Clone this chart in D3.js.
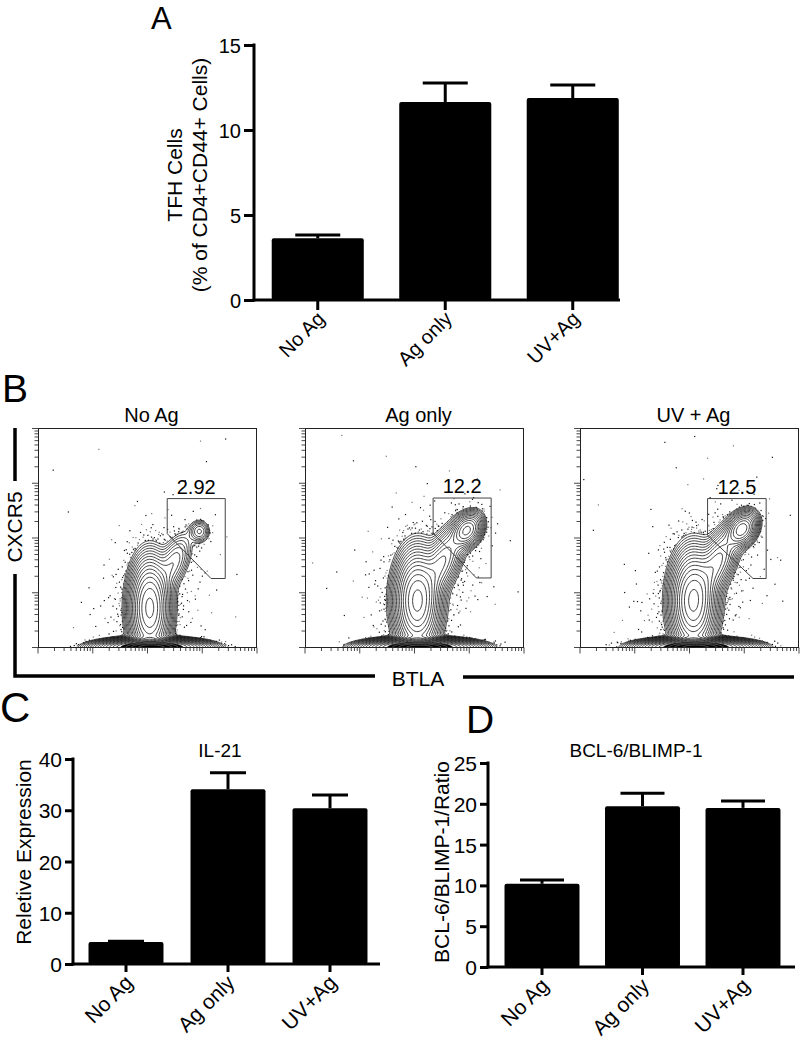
<!DOCTYPE html>
<html><head><meta charset="utf-8">
<script src="https://cdn.jsdelivr.net/npm/d3@7"></script>
<style>
body{margin:0;background:#fff}
svg{display:block}
text{font-family:"Liberation Sans",Arial,Helvetica,sans-serif;fill:#000}
</style>
</head><body>
<svg id="c" width="800" height="1041"></svg>
<script>
// ---------------- DATA ----------------
const categories = ["No Ag", "Ag only", "UV+Ag"];

// Panel A: TFH cells (% of CD4+CD44+ cells)
const tfhValues = [3.63, 11.65, 11.88];
const tfhErrors = [0.19, 1.11, 0.77];
const tfhTicks = [0, 5, 10, 15];

// Panel C: IL-21 relative expression
const il21Values = [4.3, 34.1, 30.4];
const il21Errors = [0.15, 3.2, 2.6];
const il21Ticks = [0, 10, 20, 30, 40];

// Panel D: BCL-6/BLIMP-1 ratio
const bclValues = [10.2, 19.7, 19.5];
const bclErrors = [0.45, 1.6, 0.85];
const bclTicks = [0, 5, 10, 15, 20, 25];

// Panel B: flow plots (BTLA vs CXCR5, log10 units)
const flowTitles = ["No Ag", "Ag only", "UV + Ag"];
const gatePercents = ["2.92", "12.2", "12.5"];
const flowDecades = [1, 2, 3, 4, 5];
// gate polygons: [log10 BTLA, log10 CXCR5]
const gateNoAg   = [[3.36,3.72],[4.42,3.72],[4.42,2.26],[4.16,2.26],[3.36,3.08]];
const gateAgOnly = [[3.34,3.73],[4.40,3.73],[4.40,2.27],[4.13,2.27],[3.34,3.09]];
const gateUvAg   = [[3.33,3.72],[4.40,3.72],[4.40,2.26],[4.16,2.26],[3.33,3.05]];
// cell populations: [BTLA centre, CXCR5 centre, sdX, sdY, rho, weight]
const popNoAg = [
  [3.04, 1.72, 0.17, 0.42, 0.00, 1.00],
  [3.08, 1.00, 0.42, 0.07, 0.00, 3.00],
  [3.48, 2.55, 0.17, 0.28, 0.55, 0.10],
  [3.95, 3.12, 0.10, 0.11, 0.00, 0.09],
  [3.10, 2.00, 0.55, 0.80, 0.30, 0.010]
];
const popAgOnly = [
  [3.05, 1.85, 0.19, 0.42, 0.00, 1.00],
  [3.10, 1.00, 0.44, 0.07, 0.00, 3.00],
  [3.50, 2.55, 0.20, 0.33, 0.60, 0.25],
  [3.96, 3.14, 0.14, 0.16, 0.30, 0.45],
  [3.20, 2.10, 0.60, 0.85, 0.30, 0.012]
];
const popUvAg = [
  [3.07, 1.85, 0.19, 0.42, 0.00, 1.00],
  [3.12, 1.00, 0.44, 0.07, 0.00, 3.00],
  [3.50, 2.55, 0.20, 0.33, 0.60, 0.27],
  [3.96, 3.16, 0.14, 0.16, 0.30, 0.50],
  [3.20, 2.10, 0.60, 0.85, 0.30, 0.012]
];

// ---------------- DRAW ----------------
const svg = d3.select("#c");
const FONT = '"Liberation Sans",Arial,Helvetica,sans-serif';

function barPanel(o) {
  const g = svg.append("g");
  const x = d3.scaleBand().domain(categories).range(o.xRange)
    .paddingInner(o.padIn).paddingOuter(o.padIn / 2);
  const y = d3.scaleLinear().domain([0, o.ticks[o.ticks.length - 1]]).range(o.yRange);
  g.selectAll("rect.bar").data(o.values).enter().append("rect")
    .attr("x", (d, i) => x(categories[i]))
    .attr("y", d => y(d))
    .attr("width", x.bandwidth())
    .attr("height", d => y(0) - y(d))
    .attr("rx", 2).attr("fill", "#000");
  o.values.forEach((v, i) => {
    const cx = x(categories[i]) + x.bandwidth() / 2;
    const top = y(v + o.errors[i]);
    g.append("line").attr("x1", cx).attr("x2", cx).attr("y1", y(v)).attr("y2", top)
      .attr("stroke", "#000").attr("stroke-width", 3);
    g.append("line").attr("x1", cx - o.cap / 2).attr("x2", cx + o.cap / 2)
      .attr("y1", top).attr("y2", top).attr("stroke", "#000").attr("stroke-width", 3);
  });
  const ya = g.append("g").attr("transform", `translate(${o.axisX},0)`)
    .call(d3.axisLeft(y).tickValues(o.ticks).tickSize(o.tick).tickPadding(3).tickFormat(d3.format("d")));
  ya.select(".domain").remove();
  ya.selectAll("line").attr("stroke-width", 3);
  ya.selectAll("text").attr("font-size", o.fs).attr("font-family", FONT).attr("dy", "0.36em");
  g.append("line").attr("x1", o.axisX).attr("x2", o.axisX)
    .attr("y1", y.range()[1] - 1.5).attr("y2", y(0) + 1.5)
    .attr("stroke", "#000").attr("stroke-width", 3);
  g.append("line").attr("x1", o.axisX - 1.5).attr("x2", o.xEnd)
    .attr("y1", y(0)).attr("y2", y(0)).attr("stroke", "#000").attr("stroke-width", 3);
  categories.forEach(c => {
    const cx = x(c) + x.bandwidth() / 2;
    g.append("line").attr("x1", cx).attr("x2", cx).attr("y1", y(0)).attr("y2", y(0) + o.tick)
      .attr("stroke", "#000").attr("stroke-width", 3);
    g.append("text").attr("transform", `translate(${cx + o.lx},${y(0) + o.ly}) rotate(-45)`)
      .attr("text-anchor", "end").attr("font-size", o.fs).text(c);
  });
  return {x, y};
}

// Panel A
barPanel({values: tfhValues, errors: tfhErrors, ticks: tfhTicks,
  xRange: [254, 636.5], padIn: 0.278, yRange: [300, 45], axisX: 254, xEnd: 620,
  cap: 45, tick: 10, fs: 20, lx: 8, ly: 20});
svg.append("text").attr("x", 151).attr("y", 29).attr("font-size", 31).text("A");
svg.append("text").attr("transform", "translate(182,175) rotate(-90)")
  .attr("text-anchor", "middle").attr("font-size", 21).text("TFH Cells");
svg.append("text").attr("transform", "translate(207,175) rotate(-90)")
  .attr("text-anchor", "middle").attr("font-size", 21).text("(% of CD4+CD44+ Cells)");

// Panel C
barPanel({values: il21Values, errors: il21Errors, ticks: il21Ticks,
  xRange: [75, 381], padIn: 0.265, yRange: [964, 759], axisX: 73, xEnd: 380,
  cap: 36, tick: 8, fs: 21, lx: 8, ly: 20});
svg.append("text").attr("x", 0).attr("y", 722).attr("font-size", 42).text("C");
svg.append("text").attr("x", 220).attr("y", 757).attr("text-anchor", "middle")
  .attr("font-size", 19).text("IL-21");
svg.append("text").attr("transform", "translate(31,852) rotate(-90)")
  .attr("text-anchor", "middle").attr("font-size", 21).text("Reletive Expression");

// Panel D
barPanel({values: bclValues, errors: bclErrors, ticks: bclTicks,
  xRange: [491.75, 793.25], padIn: 0.254, yRange: [967, 763], axisX: 488, xEnd: 795,
  cap: 44, tick: 8, fs: 21, lx: 8, ly: 20});
svg.append("text").attr("x", 466).attr("y", 733).attr("font-size", 39).text("D");
svg.append("text").attr("x", 636).attr("y", 757).attr("text-anchor", "middle")
  .attr("font-size", 19).text("BCL-6/BLIMP-1");
svg.append("text").attr("transform", "translate(449,862) rotate(-90)")
  .attr("text-anchor", "middle").attr("font-size", 21).text("BCL-6/BLIMP-1/Ratio");

// ---------------- Panel B: flow plots ----------------
svg.append("text").attr("x", 2).attr("y", 402).attr("font-size", 39).text("B");

// deterministic stipple sequence used only to shade the sparse outer events
function halton(i, b) { let f = 1, r = 0; while (i > 0) { f /= b; r += f * (i % b); i = Math.floor(i / b); } return r; }

function flowPlot(idx, x0, pop, gate, title, pct) {
  const W = 219, H = 219, y0 = 428.5;
  const xs = d3.scaleLog().domain([10, 1e5]).range([x0, x0 + W]);
  const ys = d3.scaleLog().domain([10, 1e5]).range([y0 + H, y0]);
  const X = d => xs(Math.pow(10, d)), Y = d => ys(Math.pow(10, d));
  const g = svg.append("g");
  const clipId = "clip" + idx;
  svg.append("clipPath").attr("id", clipId).append("rect")
    .attr("x", x0).attr("y", y0).attr("width", W).attr("height", H);

  const dens = (a, b) => {
    let s = 0;
    for (const [cx, cy, sx, sy, r, w] of pop) {
      const dx = (a - cx) / sx, dy = (b - cy) / sy;
      s += w * Math.exp(-0.5 * (dx * dx - 2 * r * dx * dy + dy * dy) / (1 - r * r));
    }
    return s;
  };
  const n = 160;
  const vals = new Array(n * n);
  for (let j = 0; j < n; j++) for (let i = 0; i < n; i++) {
    vals[i + j * n] = dens(1 + (i + 0.5) * 4 / n, 5 - (j + 0.5) * 4 / n);
  }
  const levels = d3.range(22).map(k => 0.018 * Math.pow(1.3, k));
  const contours = d3.contours().size([n, n]).thresholds(levels)(vals);
  const path = d3.geoPath(d3.geoTransform({
    point: function(px, py) { this.stream.point(X(1 + px * 4 / n), Y(5 - py * 4 / n)); }
  }));
  const cg = g.append("g").attr("clip-path", `url(#${clipId})`);

  const T0 = levels[0];
  const pts = [];
  for (let k = 1; k <= 9000; k++) {
    const a = 1 + 4 * halton(k + idx * 9001, 2), b = 1 + 4 * halton(k + idx * 9001, 3);
    const d = dens(a, b);
    if (d >= T0) continue;
    const p = 0.85 * Math.pow(d / T0, 1.4) + 0.002;
    if (halton(k + idx * 9001, 5) < p) pts.push([a, b, halton(k, 7)]);
  }
  cg.selectAll("rect.dot").data(pts).enter().append("rect")
    .attr("x", d => X(d[0]) - 0.6).attr("y", d => Y(d[1]) - 0.6)
    .attr("width", 1.2).attr("height", 1.2)
    .attr("fill", d => d[2] < 0.6 ? "#111" : "#777");

  // the dense pile of events on the axis minimum renders solid black
  cg.selectAll("path.core").data(contours.filter(c => c.value >= 1.15 && c.value < 1.5)).enter()
    .append("path").attr("d", path).attr("fill", "#000").attr("stroke", "none");
  cg.selectAll("path.ct").data(contours).enter().append("path")
    .attr("d", path).attr("fill", "none")
    .attr("stroke", d => d.value >= 1.5 ? "#fff" : "#111")
    .attr("stroke-width", d => d.value >= 1.5 ? 0.6 : 0.8)
    .attr("stroke-opacity", d => d.value >= 1.5 ? 0.5 : 1);

  g.append("rect").attr("x", x0 + 0.5).attr("y", y0).attr("width", W - 1).attr("height", H)
    .attr("fill", "none").attr("stroke", "#222").attr("stroke-width", 1);
  const tks = [];
  flowDecades.forEach((d, i) => {
    tks.push([d, 1]);
    if (i < flowDecades.length - 1) for (let m = 2; m <= 9; m++) tks.push([d + Math.log10(m), 0]);
  });
  tks.forEach(([d, major]) => {
    const L = major ? 6 : 3.5;
    g.append("line").attr("x1", X(d)).attr("x2", X(d)).attr("y1", y0 + H).attr("y2", y0 + H + L)
      .attr("stroke", "#333").attr("stroke-width", 0.9);
    g.append("line").attr("y1", Y(d)).attr("y2", Y(d)).attr("x1", x0).attr("x2", x0 - L)
      .attr("stroke", "#333").attr("stroke-width", 0.9);
  });
  g.append("path").attr("d", d3.line().x(p => X(p[0])).y(p => Y(p[1])).curve(d3.curveLinearClosed)(gate))
    .attr("fill", "none").attr("stroke", "#444").attr("stroke-width", 1);
  const gx = (X(gate[0][0]) + X(gate[1][0])) / 2;
  g.append("text").attr("x", gx).attr("y", Y(gate[0][1]) - 5).attr("text-anchor", "middle")
    .attr("font-size", 20).text(pct);
  g.append("text").attr("x", x0 + W / 2 + 4).attr("y", 422).attr("text-anchor", "middle")
    .attr("font-size", 20).text(title);
}

flowPlot(0, 38, popNoAg, gateNoAg, flowTitles[0], gatePercents[0]);
flowPlot(1, 305, popAgOnly, gateAgOnly, flowTitles[1], gatePercents[1]);
flowPlot(2, 580, popUvAg, gateUvAg, flowTitles[2], gatePercents[2]);

const lineStyle = s => s.attr("stroke", "#000").attr("stroke-width", 3.5).attr("fill", "none");
lineStyle(svg.append("line").attr("x1", 15).attr("x2", 15).attr("y1", 428).attr("y2", 481));
lineStyle(svg.append("path").attr("d", "M15,574 L15,676 L375,676"));
lineStyle(svg.append("line").attr("x1", 463).attr("x2", 794).attr("y1", 677).attr("y2", 677));
svg.append("text").attr("transform", "translate(22,527) rotate(-90)")
  .attr("text-anchor", "middle").attr("font-size", 21).text("CXCR5");
svg.append("text").attr("x", 418).attr("y", 686).attr("text-anchor", "middle")
  .attr("font-size", 21).text("BTLA");
</script>
</body></html>
